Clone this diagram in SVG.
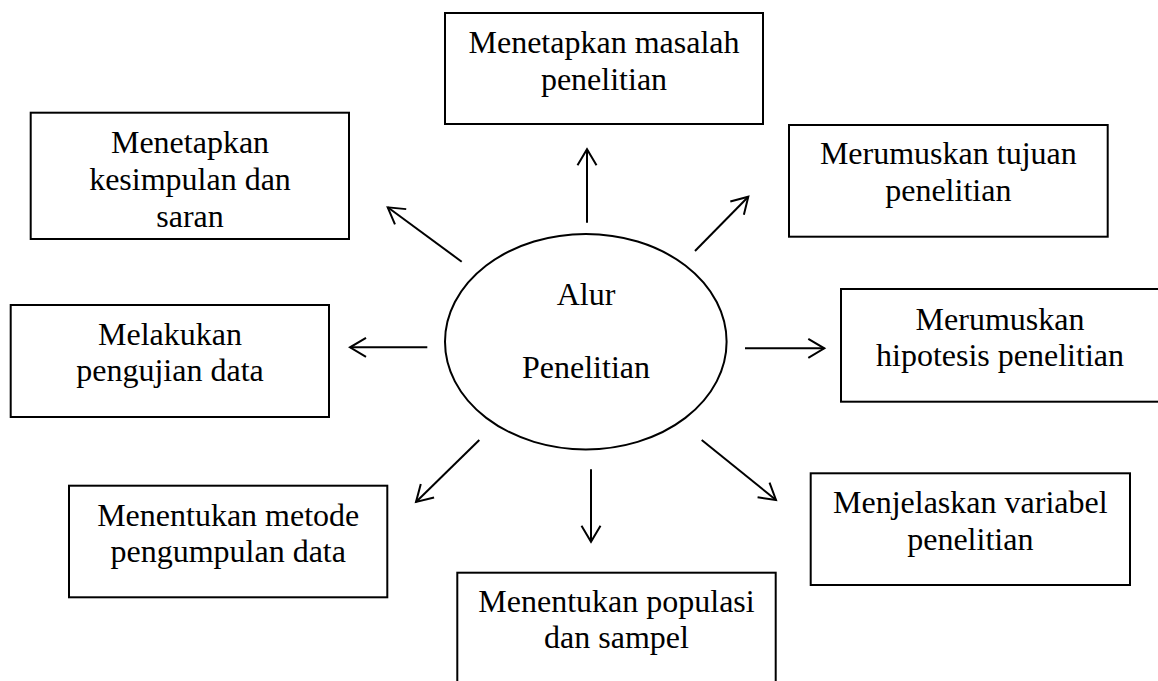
<svg xmlns="http://www.w3.org/2000/svg" width="1158" height="681" viewBox="0 0 1158 681">
  <style>
    .box { fill: #ffffff; stroke: #000000; stroke-width: 2; }
    .oval { fill: #ffffff; stroke: #000000; stroke-width: 2; }
    .lbl { font-family: "Liberation Serif", "Times New Roman", serif; font-size: 32px; fill: #000000; text-anchor: middle; }
    .conn { stroke: #000000; stroke-width: 2; fill: none; marker-end: url(#arr); }
  </style>
  <defs>
    <marker id="arr" markerUnits="userSpaceOnUse" markerWidth="40" markerHeight="40" viewBox="-20 -20 40 40" refX="0" refY="0" orient="auto" overflow="visible">
      <path d="M-16,-9.5 L0,0 L-16,9.5" fill="none" stroke="#000000" stroke-width="2" stroke-linejoin="miter" stroke-linecap="butt"/>
    </marker>
  </defs>
  <rect width="1158" height="681" fill="#ffffff"/>

  <g id="connectors">
    <line class="conn" x1="587" y1="222.7" x2="587" y2="149.3"/>
    <line class="conn" x1="461.7" y1="261.7" x2="387.7" y2="207.3"/>
    <line class="conn" x1="695" y1="251" x2="748.3" y2="196.7"/>
    <line class="conn" x1="427.3" y1="347.3" x2="350" y2="347.3"/>
    <line class="conn" x1="745" y1="348.3" x2="824.3" y2="348.3"/>
    <line class="conn" x1="479.3" y1="440" x2="416" y2="502"/>
    <line class="conn" x1="591" y1="469.3" x2="591" y2="541.7"/>
    <line class="conn" x1="701.7" y1="440" x2="776" y2="500"/>
  </g>

  <g id="center">
    <ellipse class="oval" cx="585.8" cy="341.7" rx="140.8" ry="107.7"/>
    <text class="lbl" x="586" y="305">Alur</text>
    <text class="lbl" x="586" y="378.3">Penelitian</text>
  </g>

  <g id="masalah">
    <rect class="box" x="445" y="13" width="318" height="111"/>
    <text class="lbl" x="604" y="53">Menetapkan masalah</text>
    <text class="lbl" x="604" y="90">penelitian</text>
  </g>

  <g id="kesimpulan">
    <rect class="box" x="30.7" y="112.7" width="318.3" height="126.3"/>
    <text class="lbl" x="190" y="153">Menetapkan</text>
    <text class="lbl" x="190" y="190">kesimpulan dan</text>
    <text class="lbl" x="190" y="227">saran</text>
  </g>

  <g id="pengujian">
    <rect class="box" x="10.7" y="305" width="318.3" height="112"/>
    <text class="lbl" x="170" y="345">Melakukan</text>
    <text class="lbl" x="170" y="381">pengujian data</text>
  </g>

  <g id="tujuan">
    <rect class="box" x="789" y="125" width="318.7" height="111.7"/>
    <text class="lbl" x="948.3" y="164.3">Merumuskan tujuan</text>
    <text class="lbl" x="948.3" y="201">penelitian</text>
  </g>

  <g id="hipotesis">
    <rect class="box" x="841" y="289" width="318" height="112.7"/>
    <text class="lbl" x="1000" y="330">Merumuskan</text>
    <text class="lbl" x="1000" y="365.7">hipotesis penelitian</text>
  </g>

  <g id="metode">
    <rect class="box" x="69" y="485.7" width="318.3" height="111.6"/>
    <text class="lbl" x="228.2" y="525.7">Menentukan metode</text>
    <text class="lbl" x="228.2" y="561.7">pengumpulan data</text>
  </g>

  <g id="populasi">
    <rect class="box" x="457.3" y="572.7" width="318.4" height="112"/>
    <text class="lbl" x="616.5" y="612.3">Menentukan populasi</text>
    <text class="lbl" x="616.5" y="648.3">dan sampel</text>
  </g>

  <g id="variabel">
    <rect class="box" x="810.7" y="473.3" width="319.3" height="111.7"/>
    <text class="lbl" x="970.3" y="513.3">Menjelaskan variabel</text>
    <text class="lbl" x="970.3" y="550">penelitian</text>
  </g>
</svg>
